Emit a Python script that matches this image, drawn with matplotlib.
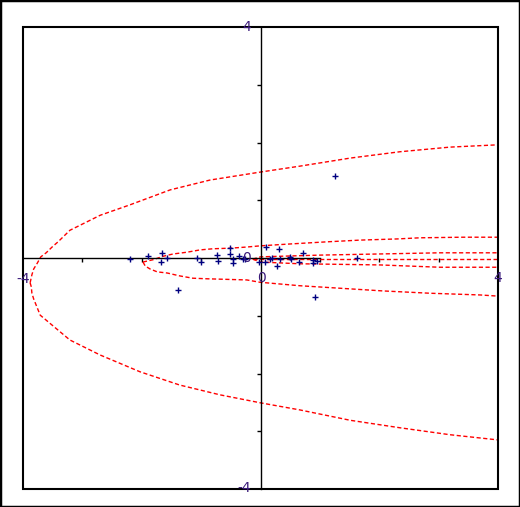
import matplotlib
matplotlib.use("Agg")
import matplotlib.pyplot as plt
from matplotlib.patches import Rectangle

# scatter points
pts_x = [-2.20, -1.89, -1.66, -1.68, -1.57, -1.07, -1.00, -0.73, -0.72, -0.51,
         -0.51, -0.46, -0.46, -0.36, -0.29, -0.26, -0.03, 0.09, 0.08, 0.16,
         0.19, 0.31, 0.33, 0.28, 0.50, 0.51, 0.65, 0.72, 0.88, 0.88,
         0.95, -1.39, 0.92, 1.25, 1.62]
pts_y = [-0.02, 0.03, 0.09, -0.07, 0.00, 0.00, -0.07, 0.05, -0.05, 0.17,
         0.07, -0.02, -0.09, 0.03, -0.02, -0.02, -0.07, 0.19, -0.07, -0.02,
         0.00, 0.16, -0.02, -0.14, 0.02, -0.02, -0.07, 0.09, -0.03, -0.09,
         -0.05, -0.55, -0.68, 1.42, 0.00]

# outer band
outer_up_x = [-3.88, -3.85, -3.82, -3.76, -3.70, -3.61, -3.51, -3.41, -3.21, -2.70,
              -2.20, -1.52, -0.85, 0.01, 0.66, 1.51, 2.35, 3.19, 4.0]
outer_up_y = [-0.43, -0.29, -0.19, -0.09, 0.02, 0.09, 0.19, 0.28, 0.48, 0.74,
              0.92, 1.18, 1.35, 1.49, 1.59, 1.73, 1.84, 1.92, 1.96]
outer_lo_x = [-3.88, -3.86, -3.85, -3.82, -3.71, -3.21, -2.70, -2.03, -1.36, -0.68,
              0.01, 0.66, 1.51, 2.35, 3.19, 4.0]
outer_lo_y = [-0.43, -0.50, -0.61, -0.71, -0.99, -1.42, -1.68, -1.97, -2.20, -2.37,
              -2.51, -2.63, -2.81, -2.94, -3.06, -3.15]

# middle band
mid_up_x = [-1.98, -1.81, -1.64, -1.47, -1.24, -1.02, -0.80, -0.51, -0.23, -0.01,
            0.45, 1.12, 1.68, 2.30, 2.69, 3.41, 4.0]
mid_up_y = [-0.07, -0.03, 0.03, 0.07, 0.10, 0.14, 0.16, 0.17, 0.19, 0.21,
            0.24, 0.28, 0.31, 0.33, 0.35, 0.36, 0.36]
mid_lo_x = [-1.98, -1.94, -1.86, -1.74, -1.57, -1.36, -1.14, -0.90, -0.23, -0.01,
            0.66, 2.06, 2.85, 3.70, 4.0]
mid_lo_y = [-0.07, -0.14, -0.19, -0.24, -0.26, -0.31, -0.35, -0.36, -0.38, -0.42,
            -0.48, -0.57, -0.61, -0.64, -0.66]

# inner band
inner_up_x = [-0.13, 0.0, 0.33, 1.0, 2.01, 3.02, 4.0]
inner_up_y = [-0.02, 0.02, 0.03, 0.05, 0.07, 0.09, 0.09]
inner_lo_x = [-0.13, 0.0, 0.66, 2.01, 3.02, 4.0]
inner_lo_y = [-0.02, -0.07, -0.10, -0.12, -0.16, -0.16]

# centre line
centre_x = [-0.13, 4.0]
centre_y = [-0.01, -0.01]

label_color = "#3a1a7a"

fig = plt.figure(figsize=(5.20, 5.07), dpi=100)
# outer border of the picture
fig.patches.append(Rectangle((0, 0), 1, 1, transform=fig.transFigure,
                             fill=False, edgecolor="black", linewidth=2.5))
ax = fig.add_axes([23 / 520, 18 / 507, 475 / 520, 462 / 507])
ax.set_xlim(-4, 4)
ax.set_ylim(-4, 4)

# axes cross through the origin, box drawn separately
ax.spines["top"].set_visible(False)
ax.spines["right"].set_visible(False)
ax.spines["left"].set_position(("data", 0))
ax.spines["bottom"].set_position(("data", 0))
ax.spines["bottom"].set_bounds(-4, 1.0)
for s in ("left", "bottom"):
    ax.spines[s].set_linewidth(1.0)
ax.add_patch(Rectangle((0, 0), 1, 1, transform=ax.transAxes, fill=False,
                       edgecolor="black", linewidth=1.5, clip_on=False, zorder=5))

ax.set_xticks([-3, -2, -1, 1, 2, 3])
ax.set_yticks([-3, -2, -1, 1, 2, 3])
ax.set_xticklabels([])
ax.set_yticklabels([])
ax.tick_params(direction="out", length=3, width=1.0)

dash = dict(color="red", linewidth=1.0, linestyle=(0, (3, 1.8)))
ax.plot(outer_up_x, outer_up_y, **dash)
ax.plot(outer_lo_x, outer_lo_y, **dash)
ax.plot(mid_up_x, mid_up_y, **dash)
ax.plot(mid_lo_x, mid_lo_y, **dash)
ax.plot(inner_up_x, inner_up_y, **dash)
ax.plot(inner_lo_x, inner_lo_y, **dash)
ax.plot(centre_x, centre_y, **dash)

ax.plot(pts_x, pts_y, linestyle="none", marker="+", color="#000080",
        markersize=4.5, markeredgewidth=1.0, zorder=4)

txt = dict(color=label_color, fontsize=10, ha="center", va="center", zorder=6)
ax.text(-0.23, 4.0, "4", clip_on=False, **txt)
ax.text(-0.28, -3.98, "-4", clip_on=False, **txt)
ax.text(-3.99, -0.36, "-4", clip_on=False, **txt)
ax.text(4.0, -0.35, "4", clip_on=False, **txt)
ax.text(-0.23, 0.0, "0", **txt)
ax.text(0.01, -0.35, "0", **txt)

fig.savefig("out.png", dpi=100)
